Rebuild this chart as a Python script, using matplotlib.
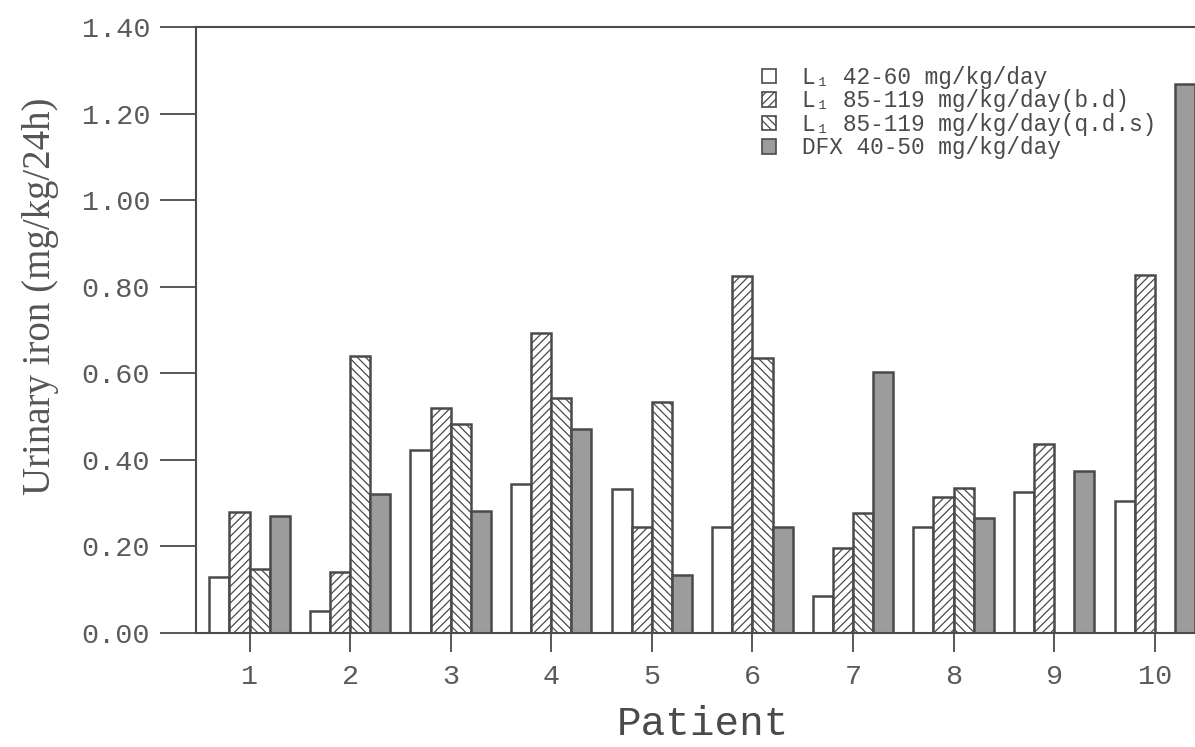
import numpy as np
import matplotlib
matplotlib.use("Agg")
import matplotlib.pyplot as plt
from matplotlib.patches import Patch
from matplotlib.ticker import FormatStrFormatter

# urinary iron per patient, mg/kg/24h
patients = [1, 2, 3, 4, 5, 6, 7, 8, 9, 10]
l1_low = [0.130, 0.051, 0.423, 0.344, 0.333, 0.246, 0.085, 0.245, 0.325, 0.305]
l1_bd = [0.280, 0.142, 0.520, 0.694, 0.245, 0.825, 0.197, 0.315, 0.437, 0.826]
l1_qds = [0.149, 0.640, 0.482, 0.544, 0.534, 0.635, 0.278, 0.335, np.nan, np.nan]
dfx = [0.270, 0.320, 0.282, 0.471, 0.134, 0.246, 0.604, 0.265, 0.375, 1.268]

labels = ["L\u2081 42-60 mg/kg/day",
          "L\u2081 85-119 mg/kg/day(b.d)",
          "L\u2081 85-119 mg/kg/day(q.d.s)",
          "DFX 40-50 mg/kg/day"]

mono = ["Liberation Mono", "DejaVu Sans Mono"]
ink = "#4a4a4a"
plt.rcParams["hatch.linewidth"] = 0.9

fig = plt.figure(figsize=(11.95, 7.47), dpi=100)
ax = fig.add_axes([196 / 1195, 114 / 747, 999 / 1195, 606 / 747])

x = np.array(patients, dtype=float)
w = 0.2
series = [(l1_low, "white", None), (l1_bd, "white", "////"),
          (l1_qds, "white", "\\\\\\\\"), (dfx, "#9c9c9c", None)]
handles = []
for i, (vals, fc, hatch) in enumerate(series):
    ax.bar(x + (i - 1.5) * w, vals, w, facecolor=fc, edgecolor=ink,
           hatch=hatch, linewidth=1.8, zorder=2)
    handles.append(Patch(facecolor=fc, edgecolor=ink, hatch=hatch, linewidth=1.2))

ax.set_xlim(0.468, 10.40)
ax.set_ylim(0, 1.40)
ax.set_xticks(patients)
ax.set_yticks(np.arange(0, 1.41, 0.2))
ax.yaxis.set_major_formatter(FormatStrFormatter("%.2f"))

for s in ["left", "bottom", "top"]:
    ax.spines[s].set_color(ink)
    ax.spines[s].set_linewidth(1.5)
ax.spines["right"].set_visible(False)

ax.tick_params(axis="y", direction="out", length=26, width=1.3, color=ink, pad=7)
ax.tick_params(axis="x", direction="out", length=14, width=1.3, color=ink, pad=8)
for lab in ax.get_xticklabels() + ax.get_yticklabels():
    lab.set_family(mono)
    lab.set_fontsize(20.5)
    lab.set_color("#5a5a5a")

ax.set_xlabel("Patient", family=mono, fontsize=29.5, color="#4a4a4a")
ax.xaxis.set_label_coords(0.5075, -(735 - 633) / 606)
ax.xaxis.label.set_verticalalignment("baseline")

ax.set_ylabel("Urinary iron (mg/kg/24h)", family=["Liberation Serif", "DejaVu Serif"],
              fontsize=28, color="#555555")
ax.yaxis.set_label_coords(-0.156, 0.555)
ax.yaxis.label.set_verticalalignment("center")

leg = fig.legend(handles, labels, loc="upper left",
                 bbox_to_anchor=(762 / 1195, 1 - 66 / 747),
                 frameon=False, borderpad=0, borderaxespad=0,
                 handlelength=0.62, handleheight=0.62, handletextpad=1.15,
                 labelspacing=0.02, prop={"family": mono, "size": 16.4})
for t in leg.get_texts():
    t.set_color("#4a4a4a")

fig.savefig("out.png", dpi=100)
